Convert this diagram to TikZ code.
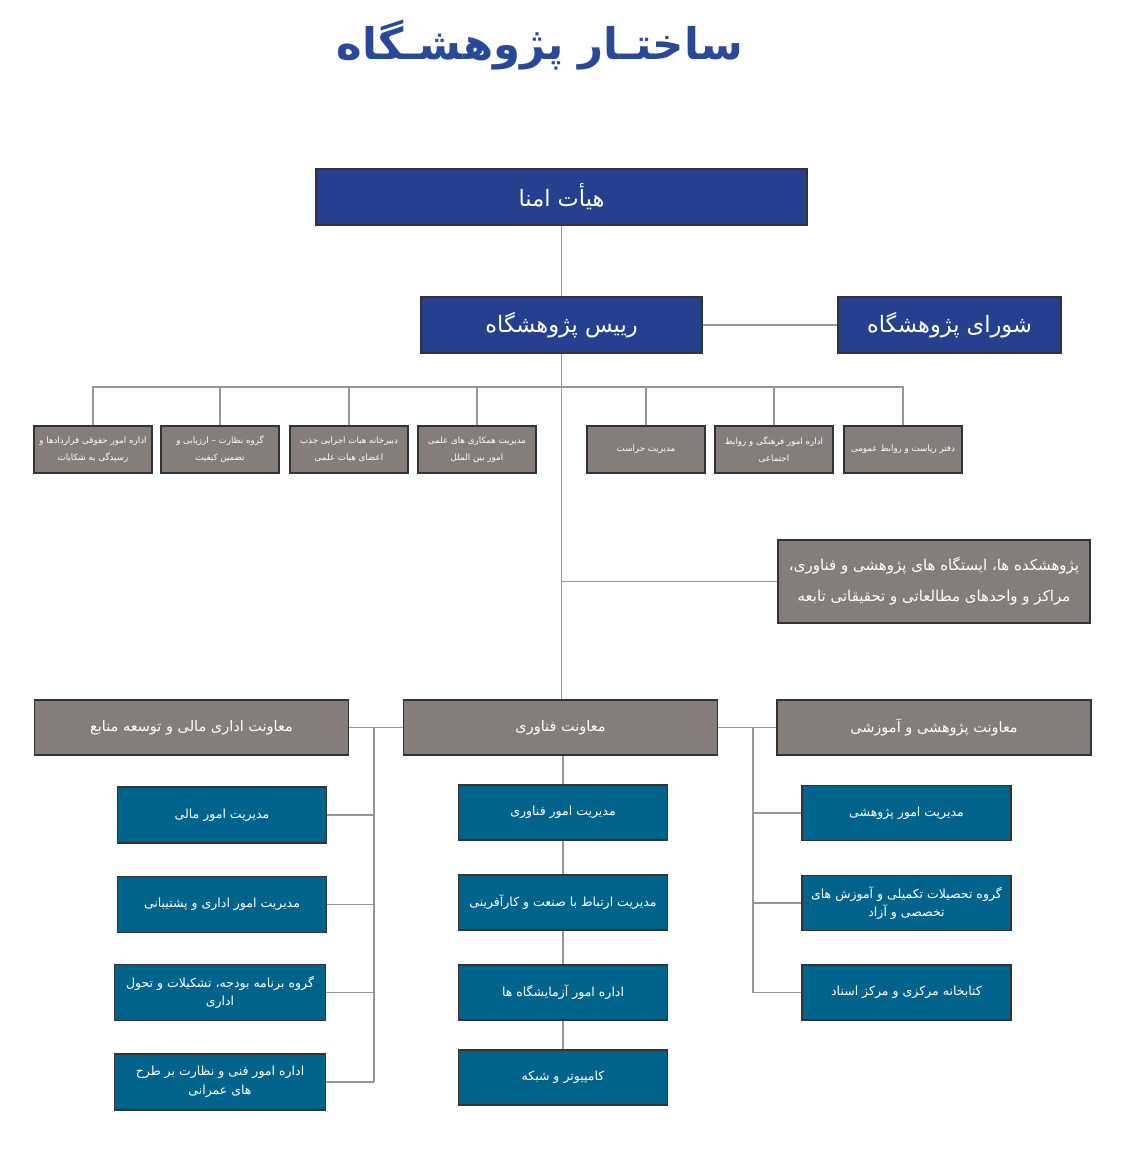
\documentclass[tikz,border=0pt]{standalone}
\usepackage{fontspec}
\usepackage{xcolor}
\usepackage{tikz}
\usetikzlibrary{positioning,calc}
\TeXXeTstate=1
\newfontfamily\arabicfont[Script=Arabic]{DejaVu Sans}
\newcommand{\fa}[1]{{\arabicfont\beginR #1\endR}}
\definecolor{titleblue}{RGB}{40,72,152}
\definecolor{hdblue}{RGB}{37,64,143}
\definecolor{greybox}{RGB}{134,125,122}
\definecolor{tealbox}{RGB}{0,99,140}
\definecolor{linegray}{RGB}{150,150,150}

\begin{document}
\begin{tikzpicture}[
    x=1pt, y=-1pt,
    box/.style={draw=black!80, line width=1.2pt, text=white, align=center, inner sep=2pt},
    board/.style={box, fill=hdblue, minimum height=56, font=\fontsize{22.5}{26}\selectfont},
    unit/.style={box, fill=greybox, minimum width=118, minimum height=47, font=\fontsize{8.7}{17}\selectfont},
    deputy/.style={box, fill=greybox, minimum width=314, minimum height=55, font=\fontsize{14.5}{17}\selectfont},
    office/.style={box, fill=tealbox, minimum width=209, minimum height=56, font=\fontsize{12.5}{18.5}\selectfont},
    link/.style={draw=linegray, line width=1.6pt},
    ]
\fill[white] (0,0) rectangle (1127,1155);
\useasboundingbox (0,0) rectangle (1127,1155);

\node[text=titleblue, font=\bfseries\fontsize{43.5}{50}\selectfont] (title) at (540,45) {\fa{ساختـار پژوهشـگاه}};

% top of the chart
\node[board, minimum width=491] (trustees) at (561.5,197) {\fa{هیأت امنا}};
\node[board, minimum width=281] (head) at (561.5,325) {\fa{رییس پژوهشگاه}};
\node[board, minimum width=223] (council) at (949.5,325) {\fa{شورای پژوهشگاه}};

% offices under the head
\node[unit] (u1) at (93,449.5) {\fa{اداره امور حقوقی قراردادها و}\\\fa{رسیدگی به شکایات}};
\node[unit] (u2) at (220,449.5) {\fa{گروه نظارت – ارزیابی و}\\\fa{تضمین کیفیت}};
\node[unit] (u3) at (349,449.5) {\fa{دبیرخانه هیات اجرایی جذب}\\\fa{اعضای هیات علمی}};
\node[unit] (u4) at (477,449.5) {\fa{مدیریت همکاری های علمی}\\\fa{امور بین الملل}};
\node[unit] (u5) at (646,449.5) {\fa{مدیریت حراست}};
\node[unit] (u6) at (774,449.5) {\fa{اداره امور فرهنگی و روابط}\\\fa{اجتماعی}};
\node[unit] (u7) at (903,449.5) {\fa{دفتر ریاست و روابط عمومی}};

\node[box, fill=greybox, minimum width=312, minimum height=83, font=\fontsize{15}{31}\selectfont] (inst) at (934,581.5)
     {\fa{پژوهشکده ها، ایستگاه های پژوهشی و فناوری،}\\\fa{مراکز و واحدهای مطالعاتی و تحقیقاتی تابعه}};

% deputies
\node[deputy] (admin) at (191.5,727.5) {\fa{معاونت اداری مالی و توسعه منابع}};
\node[deputy] (tech) at (560.5,727.5) {\fa{معاونت فناوری}};
\node[deputy] (research) at (934,727.5) {\fa{معاونت پژوهشی و آموزشی}};

\node[office] (fin1) at (222,815) {\fa{مدیریت امور مالی}};
\node[office] (fin2) at (222,904.5) {\fa{مدیریت امور اداری و پشتیبانی}};
\node[office, minimum width=211] (fin3) at (220,992.5) {\fa{گروه برنامه بودجه، تشکیلات و تحول}\\\fa{اداری}};
\node[office, minimum width=211] (fin4) at (220,1082) {\fa{اداره امور فنی و نظارت بر طرح}\\\fa{های عمرانی}};

\node[office, minimum height=55] (tec1) at (563,812.5) {\fa{مدیریت امور فناوری}};
\node[office, minimum height=55] (tec2) at (563,902.5) {\fa{مدیریت ارتباط با صنعت و کارآفرینی}};
\node[office, minimum height=55] (tec3) at (563,992.5) {\fa{اداره امور آزمایشگاه ها}};
\node[office, minimum height=55] (tec4) at (563,1077.5) {\fa{کامپیوتر و شبکه}};

\node[office, minimum height=55] (res1) at (906.5,813) {\fa{مدیریت امور پژوهشی}};
\node[office, minimum height=55] (res2) at (906.5,903) {\fa{گروه تحصیلات تکمیلی و آموزش های}\\\fa{تخصصی و آزاد}};
\node[office, minimum height=55] (res3) at (906.5,992.5) {\fa{کتابخانه مرکزی و مرکز اسناد}};

% connectors
\coordinate (bus) at (562,387);
\coordinate (lspine) at (374,728);
\coordinate (rspine) at (753,728);

\draw[link] (trustees) -- (head);
\draw[link] (head) -- (council);
\draw[link] (head.south) -- (head.south |- tech.north);
\draw[link] (u1.north) -- (u1.north |- bus) -- (u7.north |- bus) -- (u7.north);
\draw[link] (u2.north) -- (u2.north |- bus);
\draw[link] (u3.north) -- (u3.north |- bus);
\draw[link] (u4.north) -- (u4.north |- bus);
\draw[link] (u5.north) -- (u5.north |- bus);
\draw[link] (u6.north) -- (u6.north |- bus);
\draw[link] (inst.west) -- (inst.west -| head.south);

\draw[link] (admin) -- (tech);
\draw[link] (tech) -- (research);
\draw[link] (lspine) -- (lspine |- fin4.east);
\draw[link] (fin1.east) -- (fin1.east -| lspine);
\draw[link] (fin2.east) -- (fin2.east -| lspine);
\draw[link] (fin3.east) -- (fin3.east -| lspine);
\draw[link] (fin4.east) -- (fin4.east -| lspine);

\draw[link] (tec1.north |- tech.south) -- (tec1) -- (tec2) -- (tec3) -- (tec4);

\draw[link] (rspine) -- (rspine |- res3.west);
\draw[link] (res1.west) -- (res1.west -| rspine);
\draw[link] (res2.west) -- (res2.west -| rspine);
\draw[link] (res3.west) -- (res3.west -| rspine);
\end{tikzpicture}
\end{document}
